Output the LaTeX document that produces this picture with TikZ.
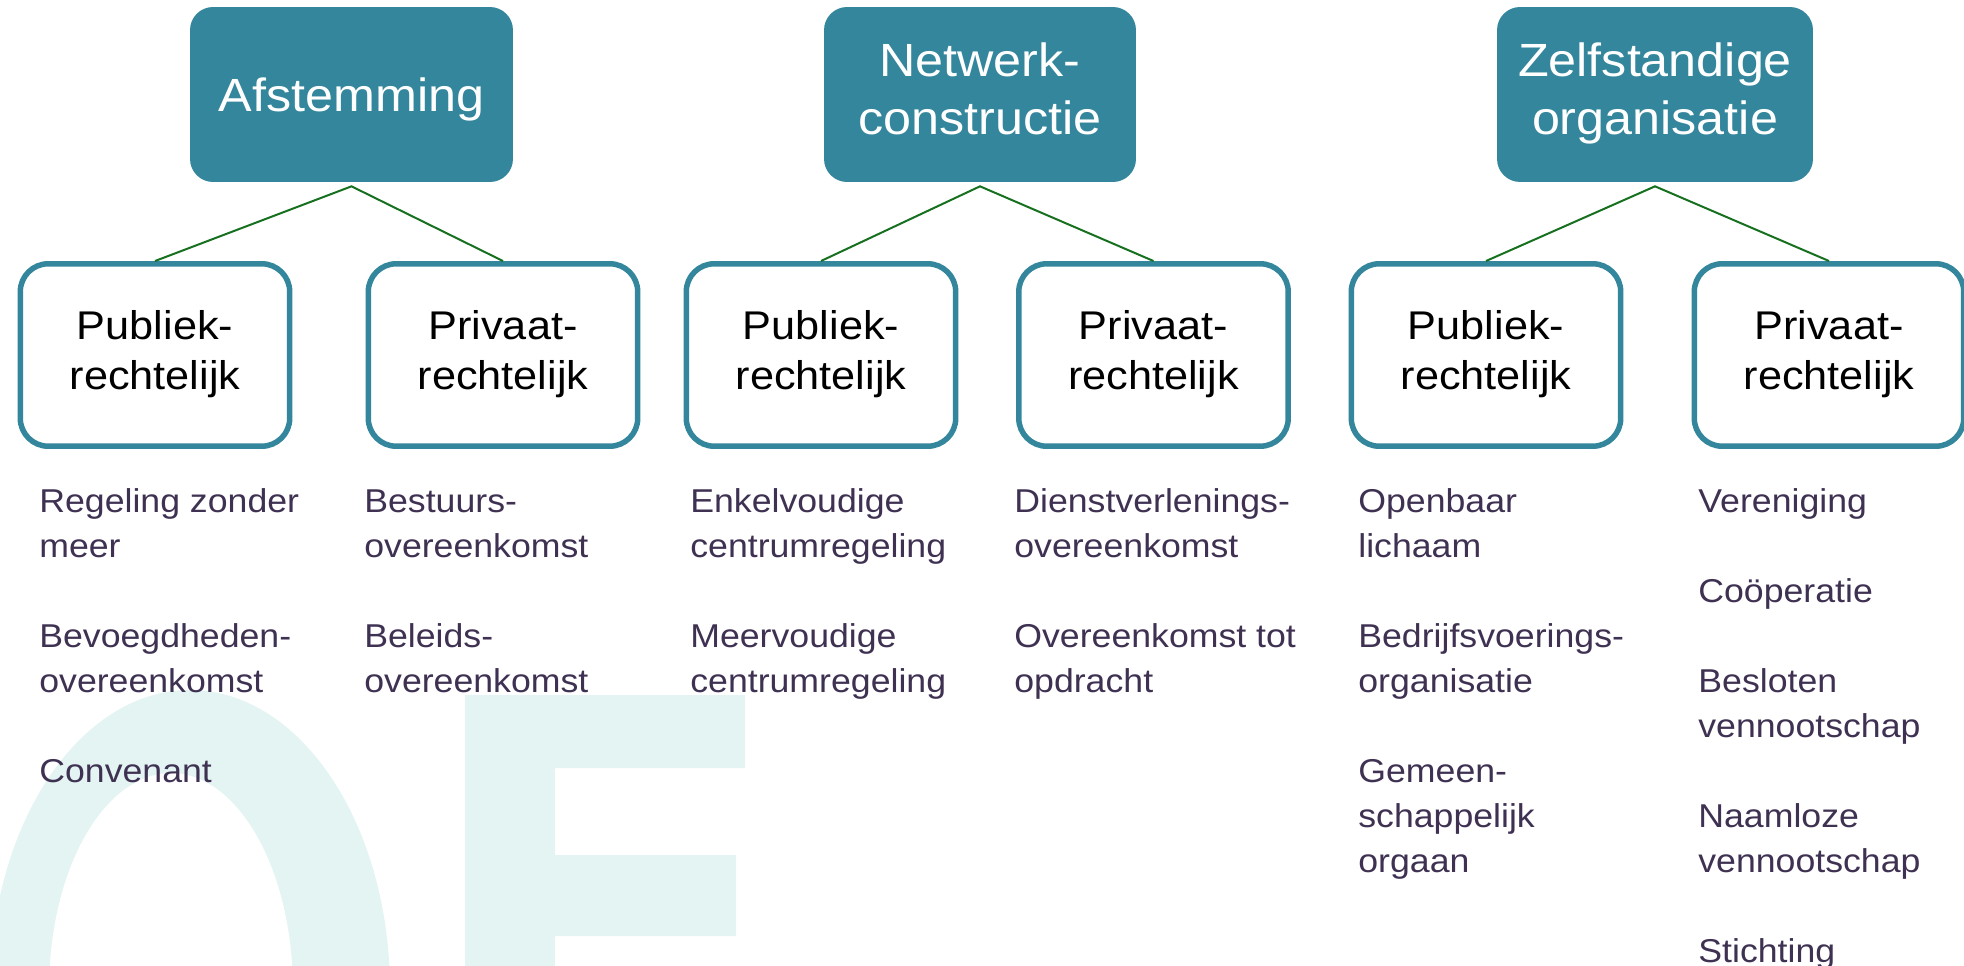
\documentclass[tikz,border=0pt]{standalone}
\usepackage{fontspec}
\setmainfont{Liberation Sans}[FakeStretch=1.08]
\usepackage{tikz}

\definecolor{boxteal}{HTML}{33869C}
\definecolor{linkgreen}{HTML}{17701F}
\definecolor{itemink}{HTML}{3E3152}
\definecolor{wmtint}{HTML}{E3F4F2}

\begin{document}
\begin{tikzpicture}[x=0.02cm, y=-0.02cm,
	topbox/.style={fill=boxteal, rounded corners=0.46cm, minimum width=#1, minimum height=3.5cm,
		inner sep=0pt, text=white, align=center, font=\fontsize{26.5}{33}\selectfont,
		execute at begin node=\rule{0pt}{0.98em}, execute at end node=\rule[-0.25em]{0pt}{0pt}},
	subbox/.style={draw=boxteal, line width=0.11cm, rounded corners=0.56cm, minimum width=5.39cm,
		minimum height=3.65cm, inner sep=0pt, align=center, font=\fontsize{22.8}{28.5}\selectfont,
		execute at begin node=\rule{0pt}{1.1em}, execute at end node=\rule[-0.25em]{0pt}{0pt}},
	items/.style={anchor=base west, inner sep=0pt, align=left, text=itemink,
		font=\fontsize{18.8}{25.6}\selectfont},
	link/.style={draw=linkgreen, line width=0.04cm},
	wmark/.style={fill=wmtint}]
				\clip (0,0) rectangle (1964,966);
				
				% watermark
				\fill[wmark, even odd rule] (190,990) ellipse [x radius=200, y radius=300]
				(171,990) ellipse [x radius=122, y radius=217];
				\fill[wmark] (465,695) rectangle (555,970) (555,695) rectangle (745,768)
				(555,855) rectangle (736,936);
				
				\path (351.5,94.5) node[topbox=6.46cm] (top1){Afstemming}
				(980,94.5) node[topbox=6.24cm] (top2){Netwerk-\\constructie}
				(1655,94.5) node[topbox=6.32cm] (top3){Zelfstandige\\organisatie};
				
				\path (155,355) node[subbox] (pub1){Publiek-\\rechtelijk}
				(503,355) node[subbox] (priv1){Privaat-\\rechtelijk}
				(821,355) node[subbox] (pub2){Publiek-\\rechtelijk}
				(1153.5,355) node[subbox] (priv2){Privaat-\\rechtelijk}
				(1486,355) node[subbox] (pub3){Publiek-\\rechtelijk}
				(1829,355) node[subbox] (priv3){Privaat-\\rechtelijk};
				
				\coordinate (apex1) at ([yshift=-0.08cm]top1.south);
				\coordinate (apex2) at ([yshift=-0.08cm]top2.south);
				\coordinate (apex3) at ([yshift=-0.08cm]top3.south);
				\draw[link] (pub1.north) -- (apex1) -- (priv1.north)
				(pub2.north) -- (apex2) -- (priv2.north)
				(pub3.north) -- (apex3) -- (priv3.north);
				
				% lists, placed at the baseline of their last line
				\path (39,782) node[items] (list1){Regeling zonder\\meer\\[25.6pt]Bevoegdheden-\\overeenkomst\\[25.6pt]Convenant}
				(364,692) node[items] (list2){Bestuurs-\\overeenkomst\\[25.6pt]Beleids-\\overeenkomst}
				(690,692) node[items] (list3){Enkelvoudige\\centrumregeling\\[25.6pt]Meervoudige\\centrumregeling}
				(1014,692) node[items] (list4){Dienstverlenings-\\overeenkomst\\[25.6pt]Overeenkomst tot\\opdracht}
				(1358,872) node[items] (list5){Openbaar\\lichaam\\[25.6pt]Bedrijfsvoerings-\\organisatie\\[25.6pt]Gemeen-\\schappelijk\\orgaan}
				(1698,962) node[items] (list6){Vereniging\\[25.6pt]Coöperatie\\[25.6pt]Besloten\\vennootschap\\[25.6pt]Naamloze\\vennootschap\\[25.6pt]Stichting};
			\end{tikzpicture}
\end{document}
